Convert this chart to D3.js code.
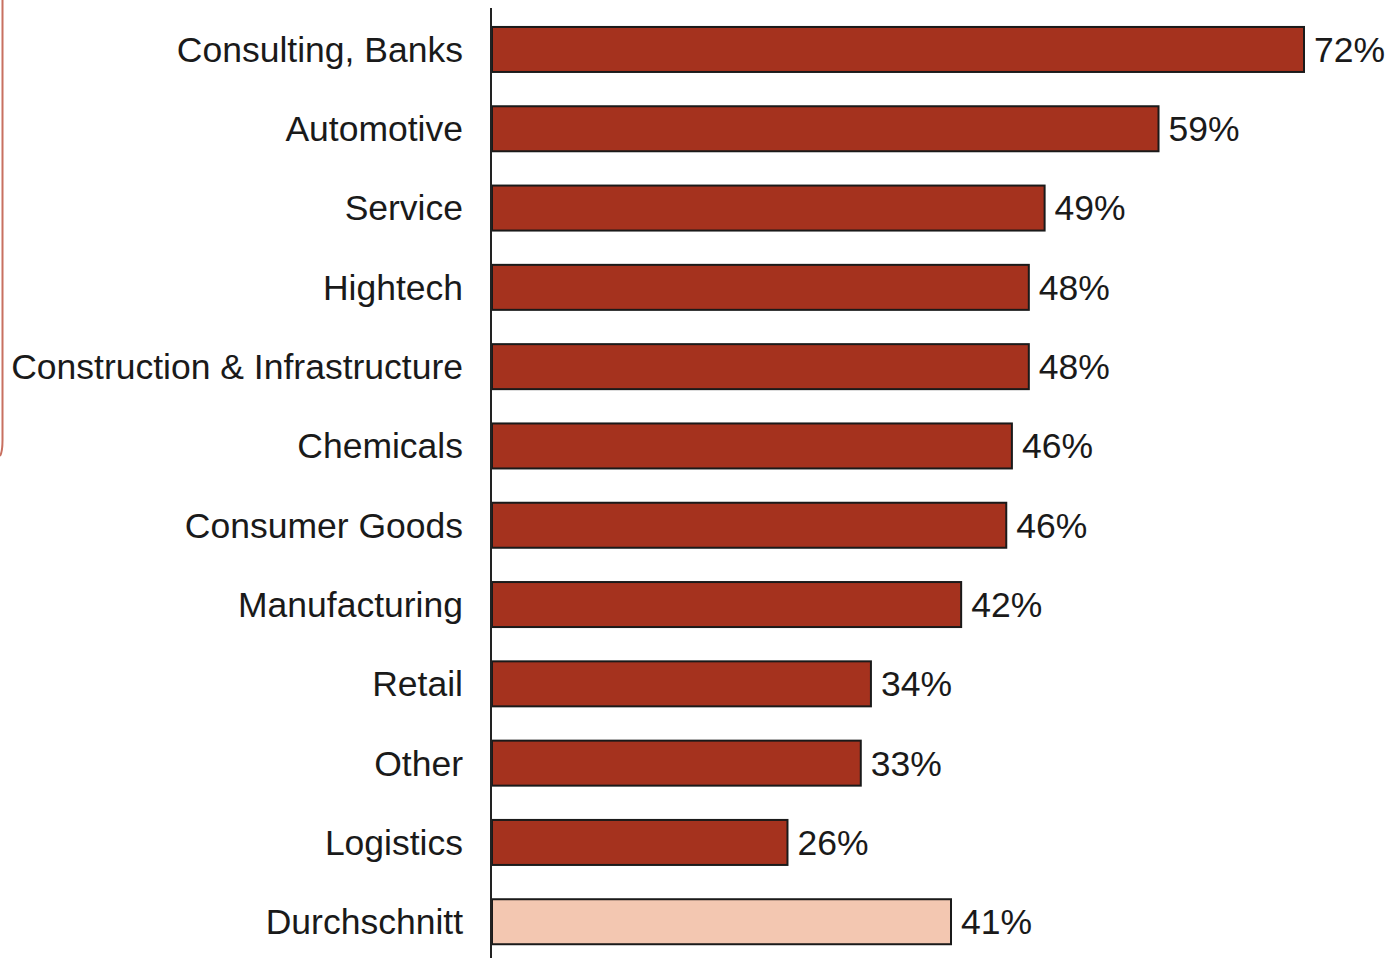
<!DOCTYPE html>
<html><head><meta charset="utf-8">
<script src="https://cdn.jsdelivr.net/npm/d3@7"></script>
<style>html,body{margin:0;padding:0;background:#fff;}svg{display:block;}</style>
</head><body>
<svg id="c" width="1386" height="958"></svg>
<script>
const categories = ["Consulting, Banks","Automotive","Service","Hightech","Construction & Infrastructure","Chemicals","Consumer Goods","Manufacturing","Retail","Other","Logistics","Durchschnitt"];
const values = [72.0,59.1,49.0,47.6,47.6,46.1,45.6,41.6,33.6,32.7,26.2,40.7];
const highlight = ["Durchschnitt"];

const svg = d3.select("#c");
const x = d3.scaleLinear().domain([0,72]).range([492,1304]);
const y = d3.scaleBand().domain(categories).range([11.1,960.1]).paddingInner(0.4325).paddingOuter(0.2);

// decorative left border
svg.append("path").attr("d","M2.5,0 L2.5,440 Q2.5,452 0,456").attr("fill","none").attr("stroke","#c87060").attr("stroke-width",2);

const data = categories.map((c,i)=>({c,v:values[i]}));
svg.selectAll("rect.bar").data(data).join("rect").attr("class","bar")
  .attr("x",x(0)).attr("y",d=>y(d.c)).attr("width",d=>x(d.v)-x(0)).attr("height",y.bandwidth())
  .attr("fill",d=>highlight.includes(d.c)?"#f3c7b1":"#a5321e").attr("stroke","#1a1a1a").attr("stroke-width",2);

svg.append("line").attr("x1",491).attr("x2",491).attr("y1",8).attr("y2",958).attr("stroke","#222").attr("stroke-width",2);

svg.selectAll("text.cat").data(data).join("text").attr("class","cat")
  .attr("x",463).attr("y",d=>y(d.c)+y.bandwidth()/2).attr("dy","0.35em").attr("text-anchor","end")
  .attr("font-family","Liberation Sans, Arial, sans-serif").attr("font-size",35.5).attr("fill","#1a1a1a").text(d=>d.c);

svg.selectAll("text.val").data(data).join("text").attr("class","val")
  .attr("x",d=>x(d.v)+10).attr("y",d=>y(d.c)+y.bandwidth()/2).attr("dy","0.35em")
  .attr("font-family","Liberation Sans, Arial, sans-serif").attr("font-size",35.5).attr("fill","#1a1a1a").text(d=>d3.format(".0f")(d.v)+"%");
</script>
</body></html>
